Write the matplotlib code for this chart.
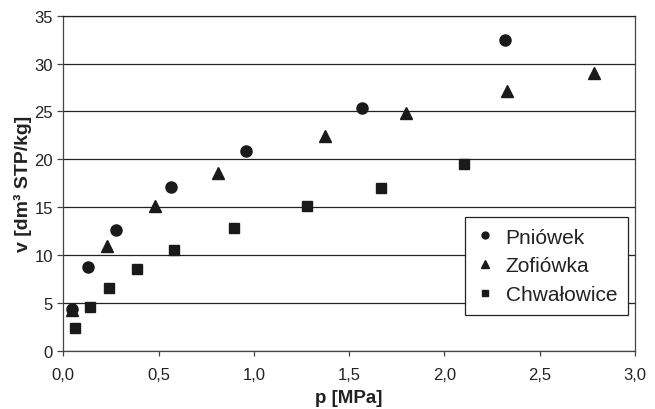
import matplotlib
matplotlib.use("Agg")
import matplotlib.pyplot as plt
from matplotlib.ticker import FuncFormatter, MultipleLocator

plt.rcParams['font.family'] = ['Liberation Sans', 'DejaVu Sans']

pniowek_p = [0.046, 0.131, 0.278, 0.563, 0.960, 1.567, 2.319]
pniowek_v = [4.4, 8.7, 12.6, 17.1, 20.9, 25.4, 32.5]

zofiowka_p = [0.046, 0.228, 0.481, 0.812, 1.372, 1.798, 2.328, 2.783]
zofiowka_v = [4.3, 10.9, 15.1, 18.6, 22.4, 24.8, 27.1, 29.0]

chwalowice_p = [0.063, 0.138, 0.238, 0.385, 0.581, 0.896, 1.277, 1.665, 2.104]
chwalowice_v = [2.4, 4.6, 6.6, 8.5, 10.5, 12.8, 15.1, 17.0, 19.5]

series_names = ["Pniówek", "Zofiówka", "Chwałowice"]

fig = plt.figure(figsize=(6.55, 4.10), dpi=100)
ax = fig.add_axes([0.0967, 0.1422, 0.8728, 0.8171])

mc = '#1a1a1a'
ax.plot(pniowek_p, pniowek_v, 'o', color=mc, markersize=8.0, label=series_names[0], zorder=3)
ax.plot(zofiowka_p, zofiowka_v, '^', color=mc, markersize=8.8, label=series_names[1], zorder=3)
ax.plot(chwalowice_p, chwalowice_v, 's', color=mc, markersize=7.6, label=series_names[2], zorder=3)

ax.set_xlim(0, 3.0)
ax.set_ylim(0, 35)
ax.xaxis.set_major_locator(MultipleLocator(0.5))
ax.yaxis.set_major_locator(MultipleLocator(5))
ax.xaxis.set_major_formatter(FuncFormatter(lambda v, p: f"{v:.1f}".replace('.', ',')))
ax.yaxis.set_major_formatter(FuncFormatter(lambda v, p: f"{int(round(v))}"))

ax.grid(axis='y', color='#222222', linewidth=0.9)
ax.set_axisbelow(True)
for s in ['left', 'bottom', 'right']:
    ax.spines[s].set_color('#444444')
    ax.spines[s].set_linewidth(0.9)
ax.spines['top'].set_color('#222222')
ax.spines['top'].set_linewidth(0.9)

ax.tick_params(direction='out', width=0.9, color='#444444',
               labelsize=12, labelcolor='#222222')
ax.tick_params(axis='x', length=3.5, pad=8)
ax.tick_params(axis='y', length=4.5, pad=3)

ax.set_xlabel("p [MPa]", fontsize=13.5, fontweight='bold', color='#222222')
ax.xaxis.set_label_coords(0.5, -0.115)
ax.xaxis.label.set_verticalalignment('top')
ax.set_ylabel("v [dm³ STP/kg]", fontsize=14, fontweight='bold', color='#222222')
ax.yaxis.set_label_coords(-0.054, 0.5)

leg = ax.legend(loc='lower right', bbox_to_anchor=(0.987, 0.108), fontsize=15,
                markerscale=0.62, frameon=True, fancybox=False, framealpha=1,
                edgecolor='#222222', handlelength=0.9, handletextpad=0.55,
                labelspacing=0.47, borderpad=0.5, borderaxespad=0)
leg.get_frame().set_linewidth(0.9)
for t in leg.get_texts():
    t.set_color('#222222')

fig.savefig("out.png", dpi=100)
